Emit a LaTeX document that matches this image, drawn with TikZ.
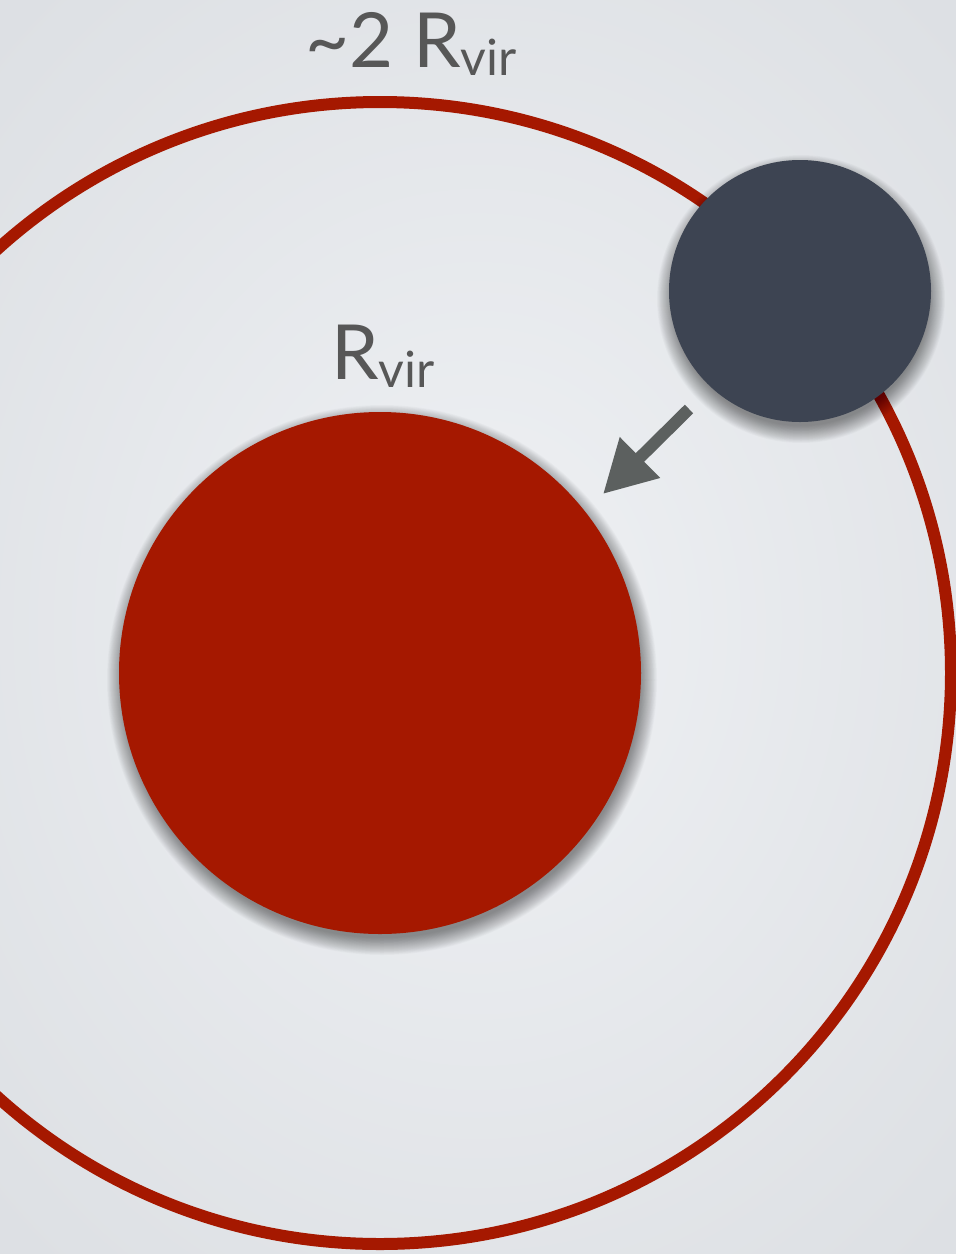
\documentclass[tikz,border=0pt]{standalone}
\usepackage{fontspec}
\setmainfont{Lato}
\usetikzlibrary{arrows.meta,calc}
\definecolor{bgin}{HTML}{EFF1F4}
\definecolor{bgout}{HTML}{DCDFE3}
\definecolor{halored}{HTML}{A51800}
\definecolor{satdark}{HTML}{3D4452}
\definecolor{arrowgray}{HTML}{5C605F}
\definecolor{labelgray}{HTML}{575757}
\tikzset{
  disk/.style={circle, inner sep=0pt, outer sep=0pt},
  lbl/.style={text=labelgray, inner sep=0pt, anchor=base, font=\fontsize{38}{40}\selectfont},
  infall/.style={draw=arrowgray, line width=6pt, -{Triangle[length=26pt,width=27pt]}},
}
\newcommand{\sub}[1]{\raisebox{-4pt}{\fontsize{25}{27}\selectfont #1}}
\newcommand{\softshadow}[4]{% center x, center y, radius px, offset y px
  \foreach \k in {0,...,23}{
    \fill[black, opacity=0.018] (#1,#2+#4) circle[radius={(#3+14-0.75*\k)*0.5pt}];
  }
}
\begin{document}
\begin{tikzpicture}[x=0.5pt,y=-0.5pt]
  \useasboundingbox (0,0) rectangle (956,1254);
  \begin{scope}
    \clip (0,0) rectangle (956,1254);
    \shade[inner color=bgin, outer color=bgout] (-250,-250) rectangle (1206,1504);
    % outer ring (~2 Rvir)
    \node[disk, draw=halored, line width=6pt, minimum size=571pt] (ring) at (380,673) {};
    % host halo shadow + disk
    \softshadow{382}{673}{261}{7}
    \node[disk, fill=halored, minimum size=261pt] (host) at (380,673) {};
    % satellite shadow + disk
    \softshadow{801}{291}{130}{8}
    \node[disk, fill=satdark, minimum size=131pt] (sat) at (800,291) {};
  \end{scope}
  % infall arrow
  \coordinate (astart) at (689,409);
  \coordinate (aend) at (603,494);
  \draw[infall] (astart) -- (aend);
  % labels
  \node[lbl] (lab2r) at (411,67) {\textasciitilde2 R\sub{vir}};
  \node[lbl] (labr) at (383,379) {R\sub{vir}};
\end{tikzpicture}
\end{document}
